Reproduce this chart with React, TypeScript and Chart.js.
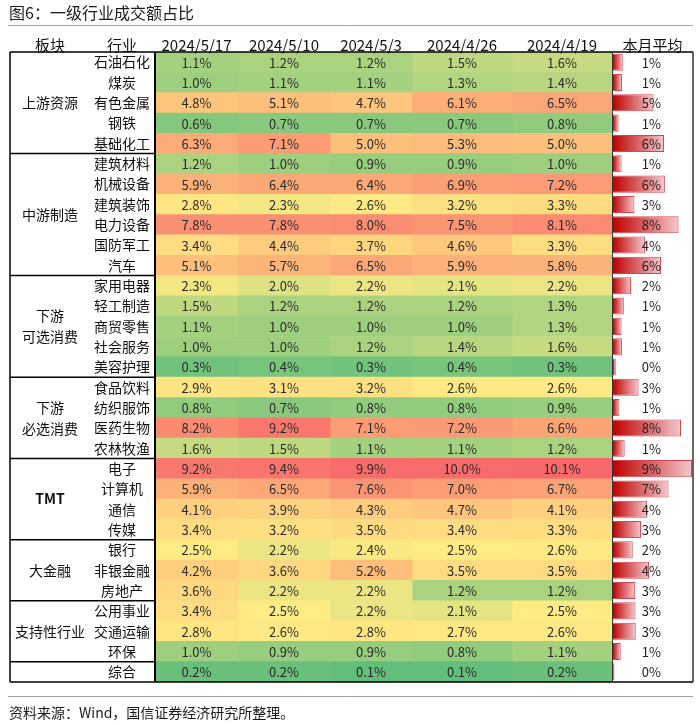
import React, { useEffect, useRef } from "react";
import { Chart, registerables } from "chart.js";

Chart.register(...registerables);

// ---------------- data ----------------
const TITLE = "图6：一级行业成交额占比";
const SOURCE = "资料来源：Wind，国信证券经济研究所整理。";

const industries = [
  "石油石化", "煤炭", "有色金属", "钢铁", "基础化工",
  "建筑材料", "机械设备", "建筑装饰", "电力设备", "国防军工", "汽车",
  "家用电器", "轻工制造", "商贸零售", "社会服务", "美容护理",
  "食品饮料", "纺织服饰", "医药生物", "农林牧渔",
  "电子", "计算机", "通信", "传媒",
  "银行", "非银金融", "房地产",
  "公用事业", "交通运输", "环保",
  "综合",
];

const groupNames = [["上游资源"], ["中游制造"], ["下游", "可选消费"], ["下游", "必选消费"], ["TMT"], ["大金融"], ["支持性行业"], []];
const groupSizes = [5, 6, 5, 4, 4, 3, 3, 1];

const dates = ["2024/5/17", "2024/5/10", "2024/5/3", "2024/4/26", "2024/4/19"];

const w0517 = [1.1, 1.0, 4.8, 0.6, 6.3, 1.2, 5.9, 2.8, 7.8, 3.4, 5.1, 2.3, 1.5, 1.1, 1.0, 0.3, 2.9, 0.8, 8.2, 1.6, 9.2, 5.9, 4.1, 3.4, 2.5, 4.2, 3.6, 3.4, 2.8, 1.0, 0.2];
const w0510 = [1.2, 1.1, 5.1, 0.7, 7.1, 1.0, 6.4, 2.3, 7.8, 4.4, 5.7, 2.0, 1.2, 1.0, 1.0, 0.4, 3.1, 0.7, 9.2, 1.5, 9.4, 6.5, 3.9, 3.2, 2.2, 3.6, 2.2, 2.5, 2.6, 0.9, 0.2];
const w0503 = [1.2, 1.1, 4.7, 0.7, 5.0, 0.9, 6.4, 2.6, 8.0, 3.7, 6.5, 2.2, 1.2, 1.0, 1.2, 0.3, 3.2, 0.8, 7.1, 1.1, 9.9, 7.6, 4.3, 3.5, 2.4, 5.2, 2.2, 2.2, 2.8, 0.9, 0.1];
const w0426 = [1.5, 1.3, 6.1, 0.7, 5.3, 0.9, 6.9, 3.2, 7.5, 4.6, 5.9, 2.1, 1.2, 1.0, 1.4, 0.4, 2.6, 0.8, 7.2, 1.1, 10.0, 7.0, 4.7, 3.4, 2.5, 3.5, 1.2, 2.1, 2.7, 0.8, 0.1];
const w0419 = [1.6, 1.4, 6.5, 0.8, 5.0, 1.0, 7.2, 3.3, 8.1, 3.3, 5.8, 2.2, 1.3, 1.3, 1.6, 0.3, 2.6, 0.9, 6.6, 1.2, 10.1, 6.7, 4.1, 3.3, 2.6, 3.5, 1.2, 2.5, 2.6, 1.1, 0.2];

const monthAvg = [1.17, 1.07, 4.87, 0.67, 6.13, 1.03, 6.23, 2.57, 7.87, 3.83, 5.77, 2.17, 1.30, 1.03, 1.07, 0.33, 3.07, 0.77, 8.17, 1.40, 9.49, 6.67, 4.10, 3.37, 2.37, 4.33, 2.67, 2.70, 2.73, 0.93, 0.17];

const weeks = [w0517, w0510, w0503, w0426, w0419];

// ---------------- layout / style ----------------
const FONT = "'Noto Sans CJK SC', 'Noto Sans', sans-serif";
const COL_EDGES = [0, 83, 175, 257, 357, 457]; // relative widths of the weekly columns
const W = 700;
const H = 725;
const TABLE_LEFT = 10;
const AREA = { left: 155, top: 52, right: 612, bottom: 682 };
const OUTER_RIGHT = 693;

const allVals = weeks.flat();
const sorted = [...allVals].sort((a, b) => a - b);
const vMin = sorted[0];
const vMax = sorted[sorted.length - 1];
const vMid = sorted[Math.floor(sorted.length / 2)];
const C_MIN = [99, 190, 123];
const C_MID = [255, 235, 132];
const C_MAX = [248, 105, 107];

function mix(a: number[], b: number[], t: number) {
  const r = a.map((x, i) => Math.round(x + (b[i] - x) * t));
  return `rgb(${r[0]},${r[1]},${r[2]})`;
}
function heatColor(v: number) {
  if (v <= vMid) return mix(C_MIN, C_MID, (v - vMin) / (vMid - vMin));
  return mix(C_MID, C_MAX, (v - vMid) / (vMax - vMid));
}

function line(ctx: CanvasRenderingContext2D, x1: number, y1: number, x2: number, y2: number) {
  ctx.beginPath();
  ctx.moveTo(x1, y1);
  ctx.lineTo(x2, y2);
  ctx.stroke();
}

const tablePlugin = {
  id: "tableDecor",
  afterDraw(chart: any) {
    const { ctx, chartArea: ca, scales } = chart;
    const ys = scales.y;
    const xs = scales.x;
    ctx.save();
    // title
    ctx.fillStyle = "#1a1a1a";
    ctx.textBaseline = "middle";
    ctx.textAlign = "left";
    ctx.font = `16px ${FONT}`;
    ctx.fillText(TITLE, 9, 13);
    ctx.strokeStyle = "#a0a0a0";
    ctx.lineWidth = 1;
    line(ctx, 8, 25.5, OUTER_RIGHT, 25.5);

    // header
    ctx.fillStyle = "#111";
    ctx.font = `15px ${FONT}`;
    ctx.textAlign = "center";
    const hy = 45;
    ctx.fillText("板块", 50, hy);
    ctx.fillText("行业", 122, hy);
    dates.forEach((d, c) => {
      ctx.fillText(d, xs.getPixelForValue((COL_EDGES[c] + COL_EDGES[c + 1]) / 2), hy);
    });
    ctx.fillText("本月平均", (ca.right + OUTER_RIGHT) / 2, hy);

    // industry labels
    ctx.font = `14px ${FONT}`;
    industries.forEach((name, i) => {
      ctx.fillText(name, 122, ys.getPixelForValue(i));
    });

    // group labels
    let start = 0;
    const bounds: number[] = [];
    groupNames.forEach((names, g) => {
      const end = start + groupSizes[g];
      const cy = (ys.getPixelForValue(start - 0.5) + ys.getPixelForValue(end - 0.5)) / 2;
      names.forEach((n, k) => {
        const off = (k - (names.length - 1) / 2) * 21;
        ctx.font = n === "TMT" ? `bold 14px ${FONT}` : `14px ${FONT}`;
        ctx.fillText(n, 50, cy + off);
      });
      if (end < industries.length) bounds.push(end);
      start = end;
    });

    // cell values
    ctx.font = `13px ${FONT}`;
    ctx.fillStyle = "#2a2a2a";
    weeks.forEach((vals, c) => {
      const meta = chart.getDatasetMeta(c);
      meta.data.forEach((el: any, i: number) => {
        ctx.fillText(vals[i].toFixed(1) + "%", (el.x + el.base) / 2, el.y + 0.5);
      });
    });

    // borders
    ctx.strokeStyle = "#000";
    ctx.lineWidth = 1.5;
    line(ctx, TABLE_LEFT, ca.top, OUTER_RIGHT, ca.top);
    line(ctx, TABLE_LEFT, ca.bottom, OUTER_RIGHT, ca.bottom);
    line(ctx, TABLE_LEFT, ca.top, TABLE_LEFT, ca.bottom);
    bounds.forEach((b) => {
      const y = ys.getPixelForValue(b - 0.5);
      line(ctx, TABLE_LEFT, y, ca.left, y);
    });
    ctx.lineWidth = 2;
    line(ctx, ca.left, ca.top, ca.left, ca.bottom);
    ctx.lineWidth = 1;
    ctx.strokeStyle = "#333";
    line(ctx, ca.right + 0.5, ca.top, ca.right + 0.5, ca.bottom);
    ctx.strokeStyle = "#000";
    ctx.lineWidth = 1.2;
    line(ctx, OUTER_RIGHT, ca.top, OUTER_RIGHT, ca.bottom);

    // footer
    ctx.strokeStyle = "#a0a0a0";
    ctx.lineWidth = 1;
    line(ctx, 8, 696.5, OUTER_RIGHT, 696.5);
    ctx.fillStyle = "#1a1a1a";
    ctx.textAlign = "left";
    ctx.font = `14px ${FONT}`;
    ctx.fillText(SOURCE, 9, 713);
    ctx.restore();
  },
};

const barLabelPlugin = {
  id: "barLabels",
  afterDatasetsDraw(chart: any) {
    const { ctx, chartArea: ca, scales } = chart;
    const ys = scales.y;
    ctx.save();
    ctx.font = `13px ${FONT}`;
    ctx.fillStyle = "#222";
    ctx.textAlign = "right";
    ctx.textBaseline = "middle";
    monthAvg.forEach((v, i) => {
      ctx.fillText(Math.round(v) + "%", ca.left + 48, ys.getPixelForValue(i) + 0.5);
    });
    ctx.restore();
  },
};

export default function App() {
  const mainRef = useRef<HTMLCanvasElement>(null);
  const barRef = useRef<HTMLCanvasElement>(null);

  useEffect(() => {
    const main = new Chart(mainRef.current!, {
      type: "bar",
      data: {
        labels: industries,
        datasets: weeks.map((vals, c) => ({
          label: dates[c],
          data: vals.map(() => [COL_EDGES[c], COL_EDGES[c + 1]]) as any,
          backgroundColor: vals.map(heatColor),
          borderWidth: 0,
          barPercentage: 1,
          categoryPercentage: 1,
          grouped: false,
        })),
      },
      options: {
        indexAxis: "y",
        responsive: false,
        animation: false,
        layout: {
          padding: { left: AREA.left, top: AREA.top, right: W - AREA.right, bottom: H - AREA.bottom },
        },
        scales: {
          x: { type: "linear", display: false, min: COL_EDGES[0], max: COL_EDGES[COL_EDGES.length - 1] },
          y: { type: "category", display: false },
        },
        plugins: { legend: { display: false }, tooltip: { enabled: false } },
      },
      plugins: [tablePlugin],
    });

    const bars = new Chart(barRef.current!, {
      type: "bar",
      data: {
        labels: industries,
        datasets: [
          {
            label: "本月平均",
            data: monthAvg,
            backgroundColor: (c: any) => {
              const xs = c.chart.scales?.x;
              const fallback = "rgb(200,0,0)";
              if (!xs || typeof c.raw !== "number") return fallback;
              const x0 = xs.getPixelForValue(0);
              const x1 = xs.getPixelForValue(c.raw);
              if (!isFinite(x0) || !isFinite(x1)) return fallback;
              const g = c.chart.ctx.createLinearGradient(x0, 0, Math.max(x1, x0 + 1), 0);
              g.addColorStop(0, "rgb(192,0,0)");
              g.addColorStop(1, "rgb(244,200,205)");
              return g;
            },
            borderColor: "rgb(210,68,80)",
            borderWidth: 1,
            barPercentage: 0.84,
            categoryPercentage: 1,
          },
        ],
      },
      options: {
        indexAxis: "y",
        responsive: false,
        animation: false,
        layout: { padding: { left: 1, right: 1, top: 0, bottom: 0 } },
        scales: {
          x: { type: "linear", display: false, min: 0, max: Math.max(...monthAvg) },
          y: { type: "category", display: false },
        },
        plugins: { legend: { display: false }, tooltip: { enabled: false } },
      },
      plugins: [barLabelPlugin],
    });

    return () => {
      main.destroy();
      bars.destroy();
    };
  }, []);

  return (
    <div style={{ position: "absolute", left: 0, top: 0, width: W, height: H, background: "#fff" }}>
      <canvas ref={mainRef} width={W} height={H} style={{ position: "absolute", left: 0, top: 0, width: W, height: H }} />
      <canvas
        ref={barRef}
        width={OUTER_RIGHT - AREA.right}
        height={AREA.bottom - AREA.top}
        style={{
          position: "absolute",
          left: AREA.right,
          top: AREA.top,
          width: OUTER_RIGHT - AREA.right,
          height: AREA.bottom - AREA.top,
        }}
      />
    </div>
  );
}
